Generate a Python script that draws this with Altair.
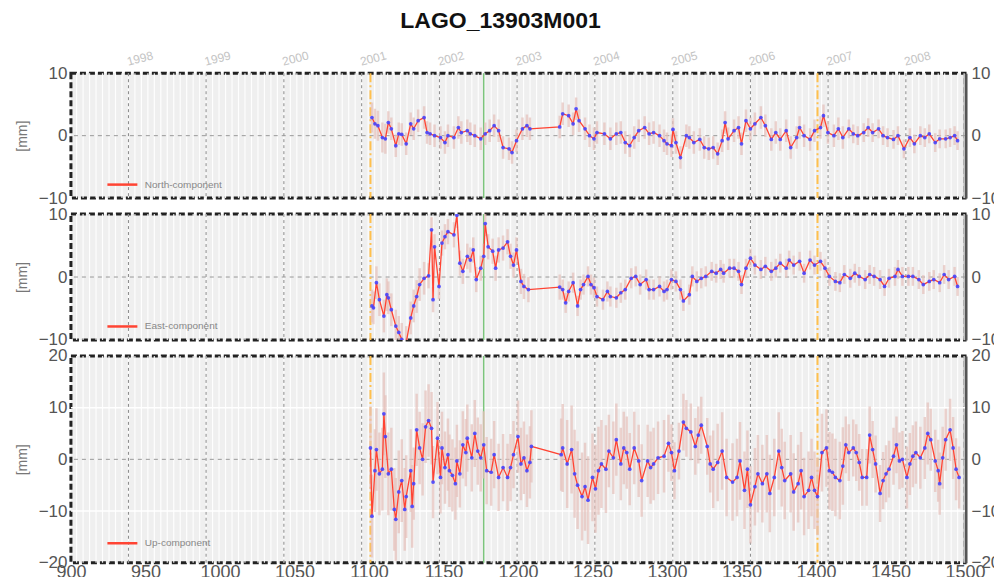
import altair as alt
import pandas as pd

TITLE = "LAGO_13903M001"
X_TICKS = [900, 950, 1000, 1050, 1100, 1150, 1200, 1250, 1300, 1350, 1400, 1450, 1500]
YEAR_WEEKS = [938.6, 990.7, 1042.9, 1095.1, 1147.3, 1199.4, 1251.6, 1303.9, 1356.0, 1408.1, 1460.3]
YEAR_LABELS = ["1998", "1999", "2000", "2001", "2002", "2003", "2004", "2005", "2006", "2007", "2008"]
YEAR_EDGES = [886.4, 1512.4]
EVENT_ORANGE = [1101, 1401]
EVENT_GREEN = [1177]

# North component
N_WEEK = [1102, 1104, 1106, 1109, 1111, 1113, 1115, 1118, 1120, 1122, 1125, 1128, 1130, 1133, 1137,
          1139, 1141, 1144, 1148, 1151, 1153, 1157, 1160, 1162, 1166, 1168, 1171, 1175, 1178, 1181,
          1184, 1187, 1190, 1194, 1196, 1199, 1203, 1206, 1208, 1228, 1230, 1234, 1237, 1239, 1241,
          1245, 1248, 1251, 1253, 1258, 1262, 1266, 1269, 1272, 1275, 1278, 1281, 1285, 1288, 1291,
          1295, 1298,
          1300, 1303, 1304, 1306, 1309, 1313, 1315, 1318, 1322, 1325, 1328, 1331, 1334, 1337, 1339,
          1341, 1345, 1348, 1350, 1353, 1356, 1359, 1363, 1366, 1370, 1373, 1376, 1380, 1383, 1387,
          1389, 1392, 1396, 1399, 1403, 1405, 1408, 1412, 1415, 1418, 1422, 1425, 1428, 1432, 1435,
          1438, 1442, 1445, 1448, 1452, 1455, 1459, 1463, 1466, 1470, 1473, 1476, 1480, 1483, 1487,
          1490, 1493, 1495]
N_MM = [2.9, 1.9, 1.6, -0.3, -0.5, 2.1, 1.1, -1.6, 0.3, 0.2, -1.3, 1.9, 1.1, 2.4, 2.9,
        0.5, 0.3, 0.0, -0.3, -1.1, 0.0, -0.3, 1.3, 0.5, 0.8, 0.3, 0.0, -0.5, 0.3, 0.8,
        1.6, 0.8, -1.9, -2.1, -2.7, -0.8, 1.1, 1.6, 1.1, 1.4, 3.5, 3.2, 1.9, 4.3, 2.4,
        1.1, 0.0, -0.5, 0.5, 0.3, -0.5, 0.3, 0.5, -1.1, -1.6, -0.3, 0.8, 1.3, 0.3, 0.5,
        0.0, -0.8,
        -1.3, -1.6, 1.0, -1.1, -3.5, 0.0, -0.3, -1.1, -0.6, -1.9, -2.1, -1.9, -2.9, -0.8, 2.1,
        -0.5, 0.8, 1.3, -1.3, 2.4, 1.1, 1.9, 2.9, 1.6, -0.6, 0.5, -0.6, 0.8, -1.9, -0.3,
        1.3, 0.0, -0.6, 0.8, 1.3, 3.2, 0.5, 0.0, 1.1, -0.3, 1.1, 0.3, 0.0, 0.5, 1.3,
        0.5, 1.1, 0.0, -0.3, -0.6, 0.0, -2.1, -0.3, -1.3, 0.0, -0.3, 0.3, -1.1, -0.5, -0.5,
        -0.3, 0.0, -0.8]
N_SIG_FROM = [1100, 1112, 1230, 1330, 1420]
N_SIG = [2.4, 1.8, 1.8, 1.8, 1.5]

# East component
E_WEEK = [1102, 1103, 1105, 1107, 1110, 1112, 1113, 1115, 1118, 1120, 1122, 1125, 1128, 1130, 1132,
          1134, 1137, 1140, 1142, 1143, 1144, 1147, 1149, 1151, 1153, 1157, 1159, 1161, 1163, 1166,
          1168, 1170, 1172, 1175, 1177, 1178, 1180, 1183, 1185, 1187, 1190, 1193, 1195, 1197, 1199,
          1202, 1204, 1207, 1228, 1230, 1232, 1234, 1237, 1240, 1242, 1244, 1247, 1249, 1251, 1253,
          1257, 1260, 1262, 1266, 1269, 1272, 1276, 1279, 1282, 1286, 1288, 1291, 1295, 1298,
          1300, 1303, 1306, 1309, 1311, 1315, 1317, 1320, 1323, 1326, 1330, 1333, 1336, 1338, 1342,
          1345, 1348, 1350, 1353, 1356, 1359, 1363, 1366, 1370, 1373, 1376, 1380, 1382, 1385, 1389,
          1392, 1396, 1399, 1403, 1406, 1409, 1413, 1416, 1419, 1423, 1426, 1429, 1433, 1436, 1439,
          1443, 1446, 1449, 1453, 1455, 1458, 1462, 1465, 1469, 1472, 1476, 1479, 1483, 1486, 1489,
          1493, 1495]
E_MM = [-4.6, -4.9, -0.9, -3.6, -6.2, -2.8, -3.3, -5.2, -7.8, -8.8, -9.9, -10.4, -6.5, -4.6, -3.1,
        -1.2, -0.2, 0.2, 7.5, -3.6, 4.8, -1.5, 5.4, 6.4, 7.2, 6.7, 9.8, 2.2, 0.9, 3.3,
        2.7, 4.3, -0.4, 1.4, 3.3, 8.5, 4.8, 4.1, 1.4, 4.3, 4.6, 5.6, 3.3, 1.9, 4.3,
        -0.7, -1.5, -2.0, -1.6, -2.0, -4.1, -2.3, -0.9, -4.6, -2.0, -1.2, 0.1, -1.2, -1.7, -3.1,
        -3.6, -2.3, -3.1, -3.3, -2.5, -2.0, -0.2, 0.1, -1.2, -0.4, -2.0, -2.0, -1.5, -2.3,
        -2.0, -0.4, -0.7, -2.0, -3.8, -2.8, 0.1, -0.7, -0.2, 0.1, 0.9, 0.6, 1.2, 0.6, 1.4,
        1.4, 0.9, -1.2, 1.4, 3.0, 1.9, 1.2, 1.7, 0.9, 1.4, 2.2, 1.4, 2.7, 1.9, 2.5,
        0.6, 2.7, 1.9, 2.5, 1.4, 0.1, -0.7, -0.9, 0.4, -0.2, 0.6, 0.1, -0.4, 0.4, 0.1,
        -0.4, -1.5, -0.2, 0.1, 1.2, 0.1, 0.1, 0.1, -0.4, -1.2, -0.7, -0.4, -0.9, 0.4, -0.4,
        0.1, -1.5]
E_SIG_FROM = [1100, 1140, 1230, 1330]
E_SIG = [2.6, 2.0, 1.6, 1.5]

# Up component
U_WEEK = [1101, 1102, 1104, 1105, 1107, 1109, 1110, 1111, 1113, 1115, 1117, 1118, 1120, 1122, 1124,
          1125, 1128, 1129, 1130, 1132, 1134, 1136, 1138, 1140, 1142, 1143, 1146, 1148, 1149, 1151,
          1153, 1154, 1156, 1158, 1159, 1161, 1163, 1165, 1166, 1169, 1171, 1173, 1175, 1177, 1179,
          1182, 1184, 1187, 1190, 1193, 1195, 1197, 1200, 1202, 1204, 1206, 1208, 1209, 1229, 1230,
          1233, 1236, 1238, 1240, 1243, 1245, 1247, 1250, 1252, 1254, 1256, 1259, 1261, 1264, 1266,
          1269, 1271, 1273, 1275, 1278, 1281, 1283, 1287, 1289, 1291, 1294, 1298,
          1301, 1303, 1305, 1308, 1311, 1313, 1316, 1319, 1321, 1323, 1327, 1329, 1331, 1334, 1337,
          1340, 1344, 1347, 1349, 1352, 1354, 1356, 1359, 1361, 1364, 1367, 1369, 1372, 1375, 1377,
          1379, 1383, 1385, 1388, 1390, 1392, 1395, 1397, 1399, 1401, 1404, 1407, 1409, 1411, 1413,
          1416, 1418, 1420, 1422, 1425, 1427, 1429, 1431, 1434, 1436, 1438, 1440, 1443, 1445, 1447,
          1449, 1452, 1454, 1456, 1458, 1461, 1463, 1465, 1467, 1470, 1473, 1475, 1477, 1480, 1482,
          1483, 1485, 1487, 1490, 1492, 1494, 1496]
U_MM = [2.2, -11.0, -2.2, 1.9, -2.8, -1.9, 8.8, 4.4, -2.8, -1.9, -9.7, -11.6, -6.3, -4.1, -9.7,
        -7.2, -2.2, -9.1, -4.7, 5.7, 2.2, 0.0, 6.3, 7.5, 6.0, -4.4, 4.1, -3.5, 2.2, -1.6,
        0.9, -2.2, -3.1, -4.7, -0.3, -2.8, 2.8, 1.3, 4.1, 0.3, 5.0, 1.6, 0.3, 2.8, -2.2,
        -2.5, 0.9, -3.5, -1.6, -3.5, -1.6, 0.9, 4.4, -0.9, 0.3, -2.2, -0.6, 2.5, 0.9, 2.2,
        -0.9, 1.9, -2.8, -5.0, -7.2, -5.3, -7.9, -3.5, -5.7, -2.2, -0.9, -1.9, 1.6, 0.3, 3.8,
        -0.9, 2.2, 1.3, -1.9, 2.2, -0.3, -4.1, -0.3, -1.6, -0.9, 0.3, 0.6,
        3.1, 1.3, -2.2, 1.6, 7.2, 6.0, 5.3, 2.5, 4.7, 6.6, 2.5, -0.9, -1.9, -0.6, 1.6,
        -3.5, -4.4, -3.5, -0.3, -6.0, -1.9, -8.8, -5.3, -2.8, -4.7, -2.8, -6.6, -3.5, 1.6, -1.6,
        -4.1, -2.8, -6.3, -4.7, -2.2, -7.2, -6.0, -3.5, -6.0, -7.2, 1.3, 2.2, -2.2, -2.5, -3.5,
        -4.1, -1.3, 2.8, 1.3, 2.2, 1.3, -0.6, -3.5, -3.5, 4.7, 1.9, -0.9, -6.6, -4.1, -2.8,
        -1.9, 0.6, 2.8, -0.3, 0.0, -3.5, -0.9, 0.6, 1.3, 0.3, 2.2, 5.0, 3.8, -0.3, -2.2,
        -4.7, 0.3, 3.8, 5.7, 2.2, -1.9, -3.5]
U_SIG_FROM = [1100, 1130, 1160, 1200, 1230, 1260, 1300, 1330, 1420, 1460]
U_SIG = [8.0, 7.0, 6.5, 7.0, 8.5, 7.0, 5.5, 7.5, 5.5, 6.0]

FONT = "Liberation Sans"
XS = alt.Scale(domain=[900, 1500], nice=False, zero=False)

# month grid positions (white stripes) between year boundaries
edges = [YEAR_EDGES[0]] + YEAR_WEEKS + [YEAR_EDGES[1]]
MONTH_WEEKS = []
for a, b in zip(edges[:-1], edges[1:]):
    for k in range(12):
        m = a + (b - a) * k / 12.0
        if 900 < m < 1500:
            MONTH_WEEKS.append(m)

year_expr = "''"
for w, lab in reversed(list(zip(YEAR_WEEKS, YEAR_LABELS))):
    year_expr = f"abs(datum.value - {w}) < 0.5 ? '{lab}' : (" + year_expr + ")"


def sig_for(w, starts, sigs):
    s = sigs[0]
    for st, v in zip(starts, sigs):
        if w >= st:
            s = v
    return s


def panel(weeks, vals, sfrom, ssig, label, dom, ticks, h, legend_y, xaxis, white_y):
    df = pd.DataFrame({"week": weeks, "mm": vals})
    df["sig"] = [sig_for(w, sfrom, ssig) for w in weeks]
    df["lo"] = df["mm"] - df["sig"]
    df["hi"] = df["mm"] + df["sig"]
    df["comp"] = label
    ys = alt.Scale(domain=dom, nice=False, zero=False)

    def X():
        return alt.X("week:Q", scale=XS, axis=xaxis, title=None)

    months = alt.Chart(pd.DataFrame({"week": MONTH_WEEKS})).mark_rule(
        color="#ffffff", strokeWidth=1.2, opacity=0.9).encode(x=X())
    years = alt.Chart(pd.DataFrame({"week": YEAR_WEEKS})).mark_rule(
        color="#8a8a8a", strokeWidth=1, strokeDash=[3, 3]).encode(x=X())
    layers = [months, years]
    if white_y:
        layers.append(alt.Chart(pd.DataFrame({"y": white_y})).mark_rule(
            color="#ffffff", strokeWidth=1.5).encode(y=alt.Y("y:Q", scale=ys, axis=None)))
    zero = alt.Chart(pd.DataFrame({"y": [0]})).mark_rule(
        color="#999999", strokeWidth=1, strokeDash=[4, 4]).encode(
        y=alt.Y("y:Q", scale=ys, axis=None))
    orange = alt.Chart(pd.DataFrame({"week": EVENT_ORANGE})).mark_rule(
        color="#ffc04d", strokeWidth=2, strokeDash=[9, 3, 2, 3]).encode(x=X())
    green = alt.Chart(pd.DataFrame({"week": EVENT_GREEN})).mark_rule(
        color="#7cc47c", strokeWidth=1.5).encode(x=X())
    err = alt.Chart(df).mark_rule(color="#e6c0bb", strokeWidth=2.5, opacity=0.7, clip=True).encode(
        x=X(), y=alt.Y("lo:Q", scale=ys, axis=None), y2="hi:Q")
    line = alt.Chart(df).mark_line(strokeWidth=1.3, clip=True).encode(
        x=X(),
        y=alt.Y("mm:Q", scale=ys, title="[mm]",
                axis=alt.Axis(orient="left", values=ticks, ticks=False, domain=False, grid=False,
                              labelFontSize=17, labelColor="#555555", labelFont=FONT,
                              labelPadding=4, titleFontSize=14, titleColor="#777777",
                              titleFontWeight="normal", titleFont=FONT, titlePadding=9,
                              labelFlush=False, labelOverlap=False)),
        color=alt.Color("comp:N", scale=alt.Scale(domain=[label], range=["#ff4433"]),
                        legend=alt.Legend(orient="none", legendX=35, legendY=legend_y - 15,
                                          title=None, symbolType="stroke", symbolSize=900,
                                          symbolStrokeWidth=2.5, labelFontSize=10,
                                          labelColor="#888888", labelFont=FONT, labelOffset=6,
                                          padding=0)))
    pts = alt.Chart(df).mark_circle(size=14, color="#4646ff", opacity=0.9, clip=True).encode(
        x=X(),
        y=alt.Y("mm:Q", scale=ys, title=None,
                axis=alt.Axis(orient="right", values=ticks, ticks=False, domain=True,
                              domainColor="#555555", domainWidth=4, grid=False,
                              labelFontSize=17, labelColor="#555555", labelFont=FONT,
                              labelPadding=6, labelFlush=False, labelOverlap=False)))
    layers += [zero, orange, green, err, line, pts]
    return alt.layer(*layers).resolve_scale(y="independent").properties(width=895, height=h)


top_axis = alt.Axis(orient="top", values=YEAR_WEEKS, labelExpr=year_expr, ticks=False,
                    domain=False, grid=False, labelAngle=-15, labelAlign="left",
                    labelBaseline="bottom", labelPadding=5, labelColor="#c4c4c4",
                    labelFontSize=12, labelFont=FONT, labelFlush=False, labelOverlap=False)
bottom_axis = alt.Axis(orient="bottom", values=X_TICKS, ticks=False, domain=False, grid=False,
                       labelFontSize=18, labelColor="#555555", labelFont=FONT, labelPadding=1,
                       labelFlush=False, labelOverlap=False, format="d")

p_n = panel(N_WEEK, N_MM, N_SIG_FROM, N_SIG, "North-component", [-10, 10], [-10, 0, 10],
            125, 110, top_axis, [])
p_e = panel(E_WEEK, E_MM, E_SIG_FROM, E_SIG, "East-component", [-10, 10], [-10, 0, 10],
            126, 111, None, [])
p_u = panel(U_WEEK, U_MM, U_SIG_FROM, U_SIG, "Up-component", [-20, 20], [-20, -10, 0, 10, 20],
            207, 186, bottom_axis, [-10, 10])

chart = alt.vconcat(p_n, p_e, p_u, spacing=16, bounds="flush").resolve_scale(
    color="independent", x="independent", y="independent"
).properties(
    title=alt.TitleParams(TITLE, fontSize=23, fontWeight="bold", font=FONT, color="#111111",
                          anchor="middle", offset=14, dx=-7),
    padding={"left": 5, "top": 2, "right": -8, "bottom": -7},
).configure_view(
    fill="#efefef", stroke="#222222", strokeDash=[6, 3], strokeWidth=3
)

chart.save("out.html", embed_options={"renderer": "svg", "actions": False})
